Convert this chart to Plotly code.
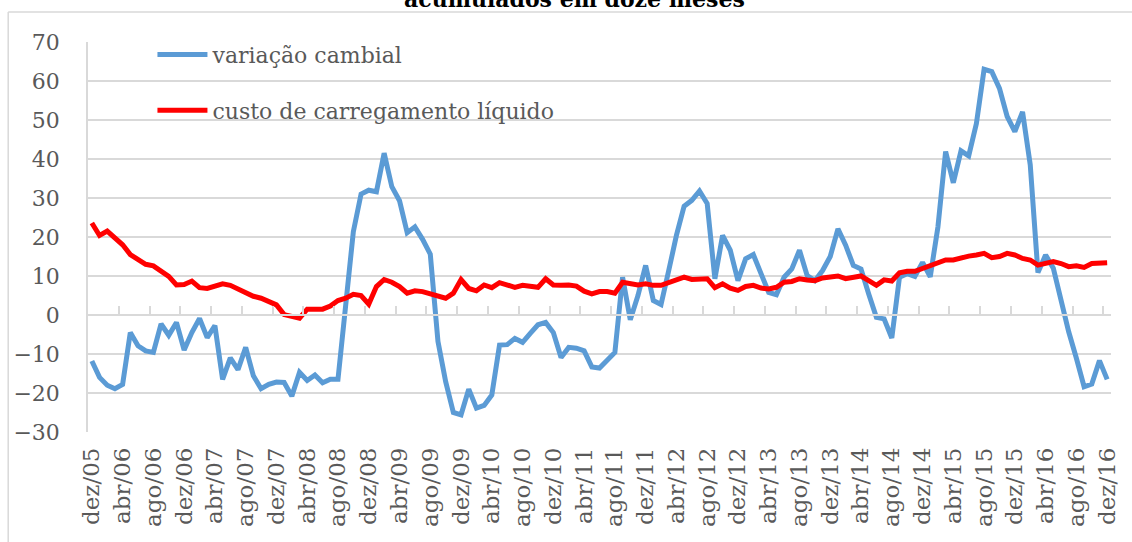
import plotly.graph_objects as go

meses = ["jan", "fev", "mar", "abr", "mai", "jun", "jul", "ago", "set", "out", "nov", "dez"]
# dez/05 ... dez/16, mensal
datas = [f"{meses[(11 + i) % 12]}/{5 + (11 + i) // 12:02d}" for i in range(133)]

variacao_cambial = [
    -11.8, -16.0, -18.0, -18.9, -17.8, -4.5, -7.9, -9.2, -9.6, -2.3, -5.2, -1.9,
    -9.0, -4.5, -0.9, -5.8, -2.7, -16.5, -11.0, -14.0, -8.3, -15.6, -18.9, -17.8,
    -17.2, -17.3, -20.8, -14.7, -16.8, -15.4, -17.4, -16.5, -16.5, 2.5, 21.4, 31.0,
    32.0, 31.6, 41.5, 32.9, 29.3, 21.1, 22.6, 19.4, 15.6, -6.8, -17.1, -25.0,
    -25.6, -19.0, -23.9, -23.2, -20.5, -7.7, -7.6, -6.0, -7.0, -4.7, -2.5, -1.9,
    -4.5, -10.9, -8.3, -8.5, -9.2, -13.3, -13.6, -11.6, -9.6, 9.7, -1.2, 5.0,
    12.7, 3.7, 2.7, 11.4, 20.4, 27.9, 29.4, 31.8, 28.6, 9.3, 20.4, 16.6,
    8.8, 14.4, 15.5, 10.6, 5.8, 5.2, 9.7, 11.8, 16.6, 10.1, 8.8, 11.4,
    15.0, 22.1, 17.9, 12.7, 11.8, 5.4, -0.6, -1.0, -5.9, 9.7, 10.6, 9.9,
    13.5, 9.8, 22.6, 41.9, 33.9, 42.1, 40.8, 49.1, 63.0, 62.4, 58.1, 50.9,
    47.0, 52.1, 38.5, 10.9, 15.4, 12.0, 3.4, -4.3, -11.1, -18.4, -17.7, -11.7,
    -16.5,
]

custo_carregamento = [
    23.6, 20.4, 21.5, 19.8, 18.0, 15.5, 14.2, 13.0, 12.6, 11.2, 9.9, 7.7,
    7.8, 8.7, 7.0, 6.8, 7.3, 8.0, 7.6, 6.7, 5.8, 4.8, 4.3, 3.4,
    2.6, 0.1, -0.2, -0.8, 1.5, 1.6, 1.5, 2.3, 3.7, 4.3, 5.3, 5.0,
    2.8, 7.3, 9.1, 8.4, 7.3, 5.6, 6.2, 6.0, 5.4, 5.1, 4.3, 5.6,
    9.1, 6.8, 6.2, 7.7, 7.0, 8.3, 7.8, 7.1, 7.6, 7.4, 7.1, 9.3,
    7.7, 7.6, 7.7, 7.4, 6.1, 5.4, 6.0, 6.0, 5.6, 8.4, 8.0, 7.7,
    8.0, 7.6, 7.6, 8.2, 9.0, 9.7, 9.1, 9.3, 9.3, 7.0, 8.0, 6.9,
    6.3, 7.3, 7.6, 6.9, 6.7, 7.1, 8.4, 8.6, 9.3, 9.0, 8.8, 9.5,
    9.9, 10.0, 9.3, 9.7, 10.0, 8.8, 7.6, 9.0, 8.7, 10.8, 11.2, 11.2,
    11.9, 12.8, 13.4, 14.1, 14.1, 14.7, 15.1, 15.4, 15.8, 14.7, 15.0, 15.8,
    15.4, 14.5, 14.1, 12.8, 13.4, 13.7, 13.2, 12.4, 12.6, 12.2, 13.2, 13.4,
    13.4,
]

rotulos_x = datas[::4]
marcas_x = [k - 0.5 for k in range(0, len(datas), 4)]

CINZA = "#595959"
GRADE = "#d9d9d9"
FONTE = "DejaVu Serif"

fig = go.Figure()
fig.add_trace(go.Scatter(
    x=datas, y=variacao_cambial, mode="lines", name="variação cambial",
    line=dict(color="#5B9BD5", width=5), legendgroup="a",
))
fig.add_trace(go.Scatter(
    x=datas, y=custo_carregamento, mode="lines", name="custo de carregamento líquido",
    line=dict(color="#FF0000", width=5), legendgroup="b",
))
# eixo auxiliar só para as marcas sobre a linha do zero
fig.add_trace(go.Scatter(x=[], y=[], xaxis="x2", showlegend=False, hoverinfo="skip"))

fig.update_layout(
    width=1132, height=542,
    margin=dict(l=88, r=18, t=42, b=110),
    paper_bgcolor="white", plot_bgcolor="white",
    font=dict(family=FONTE, color=CINZA, size=22),
    showlegend=True,
    legend=dict(
        x=0.063, y=1.021, xanchor="left", yanchor="top",
        bgcolor="rgba(0,0,0,0)", font=dict(size=22, color=CINZA),
        tracegroupgap=24, itemwidth=50,
    ),
    xaxis=dict(
        type="category", range=[-0.5, 132.5],
        tickmode="array", tickvals=rotulos_x, ticktext=rotulos_x,
        tickangle=-90, tickfont=dict(size=23, color=CINZA),
        showgrid=False, showline=False, ticks="", zeroline=False,
        ticklabelstandoff=10,
    ),
    xaxis2=dict(
        overlaying="x", anchor="free", position=0.3, range=[-0.5, 132.5],
        tickmode="array", tickvals=marcas_x, showticklabels=False,
        ticks="inside", ticklen=8, tickwidth=2, tickcolor=GRADE,
        showline=True, linecolor=GRADE, linewidth=1.5,
        showgrid=False, zeroline=False,
    ),
    yaxis=dict(
        range=[-30, 70], dtick=10, tickfont=dict(size=22, color=CINZA),
        showgrid=True, gridcolor=GRADE, gridwidth=1.5,
        zeroline=False, showline=True, linecolor=GRADE, linewidth=1.5,
        ticklabelstandoff=22,
    ),
    annotations=[dict(
        text="<b>acumulados em doze meses</b>", xref="paper", yref="paper",
        x=(576 - 88) / 1026, y=(432 - 14) / 390, xanchor="center", yanchor="bottom",
        showarrow=False, font=dict(family=FONTE, size=22, color="black"),
    )],
    shapes=[
        dict(type="line", xref="paper", yref="paper", x0=-0.078, x1=1.1,
             y0=1.077, y1=1.077, line=dict(color=GRADE, width=1.5)),
        dict(type="line", xref="paper", yref="paper", x0=-0.078, x1=-0.078,
             y0=1.077, y1=-0.3, line=dict(color=GRADE, width=1.5)),
    ],
)

fig.write_html(
    "out.html",
    config={"displayModeBar": False},
    post_script="document.body.style.margin='0px';document.body.style.overflow='hidden';",
)
